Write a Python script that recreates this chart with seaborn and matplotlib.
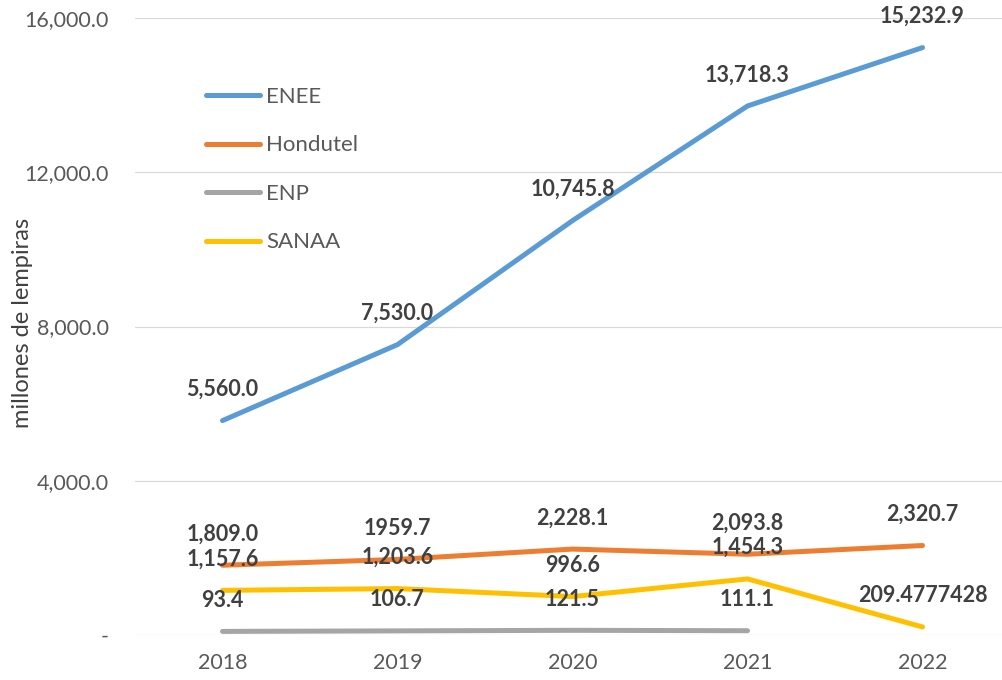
import matplotlib
matplotlib.use("Agg")
import matplotlib.pyplot as plt
import seaborn as sns
import pandas as pd
import numpy as np

years = [2018, 2019, 2020, 2021, 2022]
enee = [5560.0, 7530.0, 10745.8, 13718.3, 15232.9]
hondutel = [1809.0, 1959.7, 2228.1, 2093.8, 2320.7]
enp = [93.4, 106.7, 121.5, 111.1, np.nan]
sanaa = [1157.6, 1203.6, 996.6, 1454.3, 209.4777428]

enee_labels = ["5,560.0", "7,530.0", "10,745.8", "13,718.3", "15,232.9"]
hondutel_labels = ["1,809.0", "1959.7", "2,228.1", "2,093.8", "2,320.7"]
enp_labels = ["93.4", "106.7", "121.5", "111.1", None]
sanaa_labels = ["1,157.6", "1,203.6", "996.6", "1,454.3", "209.4777428"]

series_names = ["ENEE", "Hondutel", "ENP", "SANAA"]
colors = ["#5B9BD5", "#ED7D31", "#A5A5A5", "#FFC000"]
yticks = [0, 4000, 8000, 12000, 16000]
ytick_labels = ["-", "4,000.0", "8,000.0", "12,000.0", "16,000.0"]
ylabel = "millones de lempiras"

sns.set_theme(style="white")
plt.rcParams['font.family'] = ['Lato', 'DejaVu Sans']

values = {"ENEE": enee, "Hondutel": hondutel, "ENP": enp, "SANAA": sanaa}
labels = {"ENEE": enee_labels, "Hondutel": hondutel_labels, "ENP": enp_labels, "SANAA": sanaa_labels}
rows = []
for name in series_names:
    for y, v in zip(years, values[name]):
        rows.append({"year": y, "value": v, "serie": name})
df = pd.DataFrame(rows)

fig = plt.figure(figsize=(10.02, 6.8), dpi=100)
W, H = 1002, 680
ax = fig.add_axes([135 / W, (H - 635) / H, 867 / W, 617 / H])

sns.lineplot(data=df, x="year", y="value", hue="serie", hue_order=series_names,
             palette=colors, linewidth=3.6, ax=ax, sort=False)
for line in ax.get_lines():
    line.set_solid_capstyle("round")

ax.set_xlim(2017.5, 2017.5 + 867 / 175)
ax.set_ylim(0, 16000)
ax.set_yticks(yticks)
ax.set_yticklabels(ytick_labels)
ax.set_xticks(years)
ax.set_xticklabels([str(y) for y in years])
ax.grid(axis="y", color="#D9D9D9", linewidth=0.9)
ax.set_axisbelow(True)
for s in ax.spines.values():
    s.set_visible(False)
ax.tick_params(axis="y", length=0, pad=19, labelsize=15.5, labelcolor="#595959")
ax.tick_params(axis="x", length=0, pad=13, labelsize=15.5, labelcolor="#595959")
ax.set_xlabel("")
ax.set_ylabel(ylabel, fontsize=17, color="#404040")
ax.yaxis.set_label_coords(-0.118, 0.505)

for name in series_names:
    for y, v, lab in zip(years, values[name], labels[name]):
        if lab is None:
            continue
        ax.annotate(lab, (y, v), xytext=(0, 22.5), textcoords="offset points",
                    ha="center", va="center", fontsize=15.5, fontweight="bold",
                    color="#404040")

handles, labs = ax.get_legend_handles_labels()
leg = ax.legend(handles, labs, loc="upper left",
                bbox_to_anchor=(206 / W, 1 - 87 / H), bbox_transform=fig.transFigure,
                frameon=False, fontsize=16, handlelength=2.45, handletextpad=0.25,
                labelspacing=1.28, borderpad=0, borderaxespad=0)
for t in leg.get_texts():
    t.set_color("#595959")
for lh in leg.get_lines():
    lh.set_linewidth(3.6)
    lh.set_solid_capstyle("round")

fig.savefig("out.png", dpi=100)
